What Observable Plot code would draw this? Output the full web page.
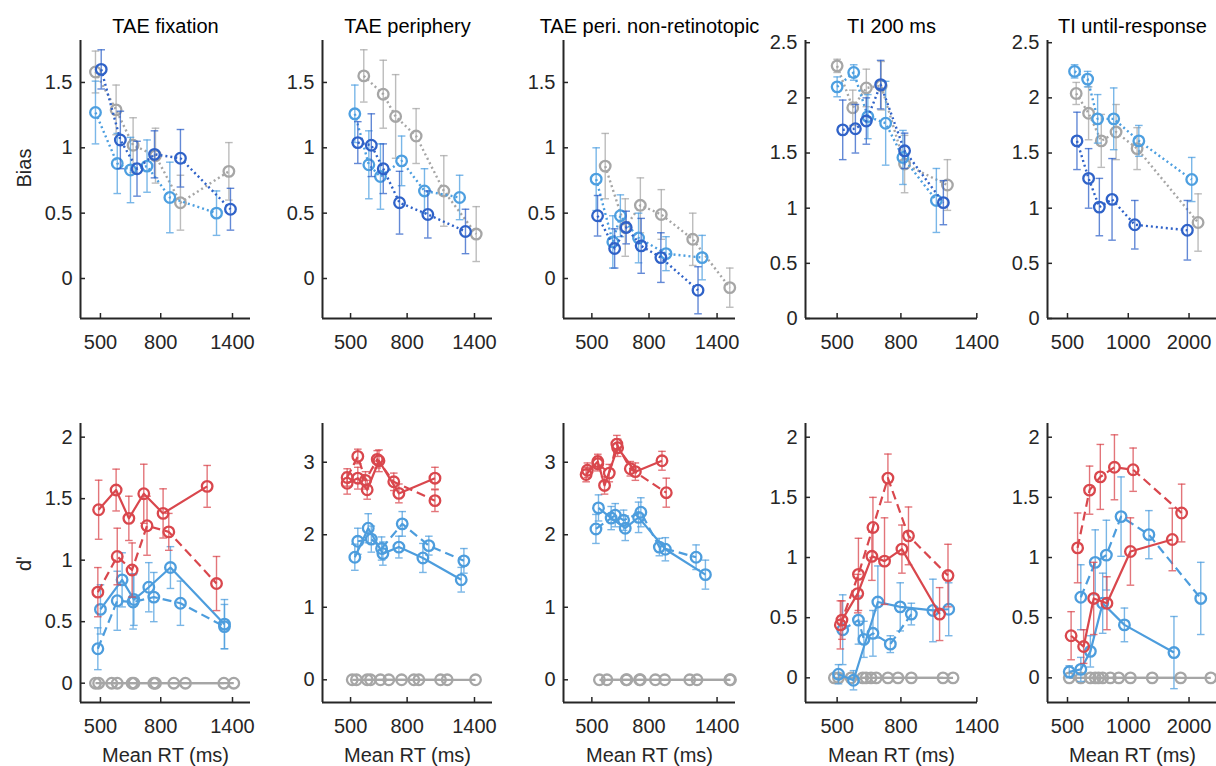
<!DOCTYPE html>
<html><head><meta charset="utf-8">
<script src="https://cdn.jsdelivr.net/npm/d3@7"></script>
<script src="https://cdn.jsdelivr.net/npm/@observablehq/plot@0.6"></script>
<style>
body{margin:0;background:#fff;}
#chart{position:relative;width:1216px;height:766px;overflow:hidden;background:#fff;}
#chart svg{position:absolute;}
</style></head><body><div id="chart"></div>
<script>
// ---------- labels ----------
const titles = ["TAE fixation", "TAE periphery", "TAE peri. non-retinotopic", "TI 200 ms", "TI until-response"];
const xTickValues = [[500, 800, 1400], [500, 800, 1400], [500, 800, 1400], [500, 800, 1400], [500, 1000, 2000]];
const xDomains = [[428, 1611], [396, 1626], [396, 1629], [396, 1407], [398, 2767]];
const biasTicksA = [0, 0.5, 1, 1.5];
const biasTicksB = [0, 0.5, 1, 1.5, 2, 2.5];
const dTicksA = [0, 0.5, 1, 1.5, 2];
const dTicksB = [0, 1, 2, 3];
const biasDomainA = [-0.306, 1.821];
const biasDomainB = [0, 2.52];
const dDomain1 = [-0.157, 2.111];
const dDomainB = [-0.313, 3.534];
const dDomain45 = [-0.205, 2.114];

// ---------- Bias (top row): [mean RT, bias, error] ----------
const fixGray  = [[481,1.58,0.16],[565,1.29,0.19],[645,1.02,0.21],[768,0.94,0.21],[933,0.58,0.21],[1361,0.82,0.22]];
const fixLight = [[481,1.27,0.24],[570,0.88,0.23],[632,0.83,0.25],[719,0.86,0.20],[859,0.62,0.27],[1236,0.50,0.17]];
const fixDark  = [[503,1.60,0.15],[584,1.06,0.22],[665,0.84,0.21],[762,0.95,0.18],[933,0.92,0.22],[1378,0.53,0.16]];

const perGray  = [[558,1.55,0.20],[656,1.41,0.26],[727,1.24,0.32],[862,1.09,0.21],[1085,0.67,0.27],[1420,0.34,0.21]];
const perLight = [[518,1.26,0.22],[582,0.87,0.26],[641,0.78,0.25],[764,0.90,0.19],[924,0.67,0.17],[1237,0.62,0.17]];
const perDark  = [[531,1.04,0.16],[594,1.02,0.24],[656,0.84,0.19],[751,0.58,0.24],[950,0.49,0.18],[1299,0.36,0.17]];

const nrGray   = [[558,0.86,0.25],[658,0.39,0.22],[745,0.56,0.21],[885,0.49,0.19],[1146,0.30,0.20],[1554,-0.07,0.15]];
const nrLight  = [[518,0.76,0.24],[594,0.28,0.20],[632,0.48,0.16],[734,0.31,0.19],[920,0.19,0.13],[1238,0.16,0.17]];
const nrDark   = [[524,0.48,0.155],[603,0.23,0.15],[663,0.39,0.125],[750,0.25,0.21],[882,0.16,0.19],[1197,-0.09,0.18]];

const ti2Gray  = [[500,2.29,0.06],[561,1.91,0.16],[620,2.09,0.17],[692,2.11,0.22],[822,1.40,0.26],[1127,1.21,0.23]];
const ti2Light = [[500,2.10,0.09],[565,2.23,0.07],[627,1.83,0.20],[715,1.77,0.38],[812,1.46,0.245],[1039,1.07,0.29]];
const ti2Dark  = [[521,1.71,0.27],[572,1.72,0.22],[620,1.79,0.21],[689,2.12,0.22],[822,1.52,0.16],[1094,1.05,0.20]];

const tiuGray  = [[552,2.04,0.10],[636,1.86,0.24],[735,1.61,0.24],[870,1.69,0.25],[1106,1.54,0.19],[2217,0.87,0.26]];
const tiuLight = [[542,2.24,0.06],[629,2.17,0.07],[705,1.81,0.22],[847,1.81,0.28],[1128,1.61,0.14],[2062,1.26,0.20]];
const tiuDark  = [[557,1.61,0.26],[636,1.27,0.27],[719,1.01,0.26],[831,1.08,0.37],[1077,0.85,0.22],[1962,0.80,0.27]];

// ---------- d' (bottom row): [mean RT, d', error] ----------
const fixRedSolid  = [[493,1.41,0.24],[565,1.57,0.17],[624,1.34,0.18],[701,1.54,0.24],[815,1.38,0.20],[1149,1.60,0.17]];
const fixRedDash   = [[490,0.74,0.20],[570,1.03,0.23],[640,0.92,0.22],[719,1.28,0.24],[852,1.23,0.15],[1236,0.81,0.22]];
const fixBlueSolid = [[500,0.60,0.20],[592,0.84,0.22],[649,0.68,0.21],[729,0.78,0.20],[863,0.94,0.17],[1315,0.48,0.20]];
const fixBlueDash  = [[490,0.28,0.17],[570,0.67,0.24],[645,0.66,0.22],[758,0.70,0.20],[933,0.65,0.18],[1315,0.46,0.18]];
const fixGrayRT_A = [481,546,640,758,886,1309];
const fixGrayRT_B = [493,570,649,768,970,1414];

const perRedSolid  = [[486,2.71,0.15],[531,2.78,0.15],[574,2.62,0.13],[633,3.02,0.15],[747,2.57,0.13],[1008,2.78,0.15]];
const perRedDash   = [[486,2.79,0.12],[531,3.08,0.10],[566,2.75,0.12],[624,3.04,0.12],[716,2.73,0.12],[1008,2.47,0.15]];
const perBlueSolid = [[518,1.69,0.18],[579,2.09,0.20],[654,1.74,0.16],[747,1.83,0.15],[912,1.68,0.20],[1254,1.38,0.17]];
const perBlueDash  = [[531,1.91,0.18],[594,1.94,0.18],[647,1.81,0.16],[768,2.15,0.17],[958,1.85,0.13],[1282,1.64,0.17]];
const perGrayRT_A = [507,574,641,764,882,1056];
const perGrayRT_B = [525,590,687,846,1116,1412];

const nrRedSolid  = [[477,2.83,0.10],[525,3.01,0.10],[555,2.68,0.12],[618,3.20,0.12],[715,2.87,0.12],[890,3.02,0.13]];
const nrRedDash   = [[482,2.89,0.10],[525,2.98,0.10],[577,2.85,0.12],[614,3.25,0.12],[686,2.91,0.10],[922,2.58,0.20]];
const nrBlueSolid = [[528,2.37,0.18],[586,2.23,0.16],[658,2.09,0.17],[734,2.24,0.21],[915,1.80,0.16],[1272,1.45,0.20]];
const nrBlueDash  = [[517,2.08,0.20],[606,2.27,0.16],[649,2.20,0.14],[748,2.31,0.20],[871,1.83,0.12],[1178,1.69,0.17]];
const nrGrayRT_A = [532,663,740,843,1118,1554];
const nrGrayRT_B = [566,667,745,910,1187,1563];

const ti2RedSolid  = [[518,0.48,0.16],[582,0.70,0.16],[646,1.01,0.20],[709,0.97,0.36],[806,1.07,0.20],[1064,0.53,0.22]];
const ti2RedDash   = [[512,0.44,0.20],[585,0.86,0.30],[651,1.25,0.25],[727,1.66,0.20],[846,1.18,0.24],[1132,0.85,0.26]];
const ti2BlueSolid = [[505,0.03,0.08],[564,-0.02,0.08],[675,0.63,0.30],[796,0.59,0.20],[1013,0.56,0.26],[1138,0.57,0.22]];
const ti2BlueDash  = [[521,0.40,0.29],[585,0.48,0.20],[609,0.32,0.15],[651,0.37,0.19],[740,0.28,0.07],[864,0.53,0.09]];
const ti2GrayRT_A = [490,554,619,667,783,1091];
const ti2GrayRT_B = [505,604,642,727,864,1175];

const tiuRedSolid  = [[521,0.35,0.20],[601,0.26,0.14],[674,0.66,0.30],[784,0.62,0.22],[1025,1.05,0.28],[1652,1.15,0.26]];
const tiuRedDash   = [[561,1.08,0.29],[643,1.56,0.20],[727,1.67,0.27],[854,1.75,0.27],[1057,1.73,0.18],[1838,1.37,0.24]];
const tiuBlueSolid = [[510,0.05,0.05],[582,0.07,0.10],[649,0.22,0.13],[747,0.62,0.25],[957,0.44,0.14],[1684,0.21,0.30]];
const tiuBlueDash  = [[582,0.67,0.27],[686,0.96,0.27],[779,1.02,0.29],[921,1.34,0.33],[1265,1.19,0.20],[2286,0.66,0.30]];
const tiuGrayRT_A = [510,649,713,815,1025,1817];
const tiuGrayRT_B = [582,686,747,897,1314,2563];

// ---------- colours ----------
const GRAY = "#a6a6a6", LIGHT = "#4d9fe0", DARK = "#2f62c8", RED = "#d9474d", BLUE = "#4d9ddd";
const DOT = "2,3", DASH = "9,5";

// ---------- layout ----------
const frameL = [80, 322, 563, 805, 1047];
const frameR = [250, 492, 735, 977, 1217];
const topRow = [40, 318], botRow = [423, 702];
const ML = 80, MR = 20, MT = 45, MB = 65;

const cap = {draw(ctx, size) { const w = Math.sqrt(size / Math.PI); ctx.moveTo(-w, 0); ctx.lineTo(w, 0); }};

function seriesMarks(data, color, dash, withErr = true) {
  const m = [];
  if (withErr) {
    m.push(Plot.ruleX(data, {x: d => d[0], y1: d => d[1] - d[2], y2: d => d[1] + d[2], stroke: color, strokeWidth: 1.4, strokeOpacity: 0.75}));
    m.push(Plot.dot(data, {x: d => d[0], y: d => d[1] - d[2], symbol: cap, r: 3.8, stroke: color, strokeWidth: 1.4, strokeOpacity: 0.75, fill: "none"}));
    m.push(Plot.dot(data, {x: d => d[0], y: d => d[1] + d[2], symbol: cap, r: 3.8, stroke: color, strokeWidth: 1.4, strokeOpacity: 0.75, fill: "none"}));
  }
  m.push(Plot.line(data, {x: d => d[0], y: d => d[1], stroke: color, strokeWidth: dash === DOT ? 2.4 : 2.2, strokeDasharray: dash, strokeLinecap: "butt"}));
  m.push(Plot.dot(data, {x: d => d[0], y: d => d[1], r: 5.3, stroke: color, strokeWidth: 2.3, fill: "none"}));
  return m;
}

function panel(i, row, yDomain, yTicks, series, opts = {}) {
  const [t, b] = row === 0 ? topRow : botRow;
  const w = frameR[i] - frameL[i], h = b - t;
  const marks = [
    Plot.ruleX([xDomains[i][0]], {stroke: "#262626", strokeWidth: 2}),
    Plot.ruleY([yDomain[0]], {stroke: "#262626", strokeWidth: 2}),
    Plot.axisX({ticks: xTickValues[i], tickSize: -5, tickPadding: 21, tickFormat: d => String(d), label: null, strokeWidth: 1.5}),
    Plot.axisY({ticks: yTicks, tickSize: -5, tickPadding: 13, tickFormat: d => String(d), label: null, strokeWidth: 1.5}),
    ...series
  ];
  if (opts.title) marks.push(Plot.text([opts.title], {frameAnchor: "top", dy: -8, lineAnchor: "bottom", fill: "#000"}));
  if (opts.ylabel) marks.push(Plot.text([opts.ylabel], {frameAnchor: "left", dx: -56, dy: 8, rotate: -90, fill: "#262626"}));
  if (opts.xlabel) marks.push(Plot.text([opts.xlabel], {frameAnchor: "bottom", dy: 53, lineAnchor: "middle", fill: "#262626"}));
  const svg = Plot.plot({
    width: w + ML + MR, height: h + MT + MB,
    marginLeft: ML, marginRight: MR, marginTop: MT, marginBottom: MB,
    x: {type: "log", domain: xDomains[i]},
    y: {domain: yDomain},
    style: {overflow: "visible", background: "transparent", fontSize: "20px", fontFamily: "'Liberation Sans', Arial, Helvetica, sans-serif", color: "#262626", maxWidth: "none"},
    marks
  });
  svg.style.left = (frameL[i] - ML) + "px";
  svg.style.top = (t - MT) + "px";
  document.getElementById("chart").appendChild(svg);
}

const zeros = rts => rts.map(r => [r, 0]);

// top row
panel(0, 0, biasDomainA, biasTicksA, [...seriesMarks(fixGray, GRAY, DOT), ...seriesMarks(fixLight, LIGHT, DOT), ...seriesMarks(fixDark, DARK, DOT)], {title: titles[0], ylabel: "Bias"});
panel(1, 0, biasDomainA, biasTicksA, [...seriesMarks(perGray, GRAY, DOT), ...seriesMarks(perLight, LIGHT, DOT), ...seriesMarks(perDark, DARK, DOT)], {title: titles[1]});
panel(2, 0, biasDomainA, biasTicksA, [...seriesMarks(nrGray, GRAY, DOT), ...seriesMarks(nrLight, LIGHT, DOT), ...seriesMarks(nrDark, DARK, DOT)], {title: titles[2]});
panel(3, 0, biasDomainB, biasTicksB, [...seriesMarks(ti2Gray, GRAY, DOT), ...seriesMarks(ti2Light, LIGHT, DOT), ...seriesMarks(ti2Dark, DARK, DOT)], {title: titles[3]});
panel(4, 0, biasDomainB, biasTicksB, [...seriesMarks(tiuGray, GRAY, DOT), ...seriesMarks(tiuLight, LIGHT, DOT), ...seriesMarks(tiuDark, DARK, DOT)], {title: titles[4]});

// bottom row
function dMarks(gA, gB, bs, bd, rs, rd) {
  return [
    ...seriesMarks(zeros(gA), GRAY, undefined, false), ...seriesMarks(zeros(gB), GRAY, undefined, false),
    ...seriesMarks(bs, BLUE, undefined), ...seriesMarks(bd, BLUE, DASH),
    ...seriesMarks(rs, RED, undefined), ...seriesMarks(rd, RED, DASH)
  ];
}
panel(0, 1, dDomain1, dTicksA, dMarks(fixGrayRT_A, fixGrayRT_B, fixBlueSolid, fixBlueDash, fixRedSolid, fixRedDash), {ylabel: "d'", xlabel: "Mean RT (ms)"});
panel(1, 1, dDomainB, dTicksB, dMarks(perGrayRT_A, perGrayRT_B, perBlueSolid, perBlueDash, perRedSolid, perRedDash), {xlabel: "Mean RT (ms)"});
panel(2, 1, dDomainB, dTicksB, dMarks(nrGrayRT_A, nrGrayRT_B, nrBlueSolid, nrBlueDash, nrRedSolid, nrRedDash), {xlabel: "Mean RT (ms)"});
panel(3, 1, dDomain45, dTicksA, dMarks(ti2GrayRT_A, ti2GrayRT_B, ti2BlueSolid, ti2BlueDash, ti2RedSolid, ti2RedDash), {xlabel: "Mean RT (ms)"});
panel(4, 1, dDomain45, dTicksA, dMarks(tiuGrayRT_A, tiuGrayRT_B, tiuBlueSolid, tiuBlueDash, tiuRedSolid, tiuRedDash), {xlabel: "Mean RT (ms)"});
</script></body></html>
